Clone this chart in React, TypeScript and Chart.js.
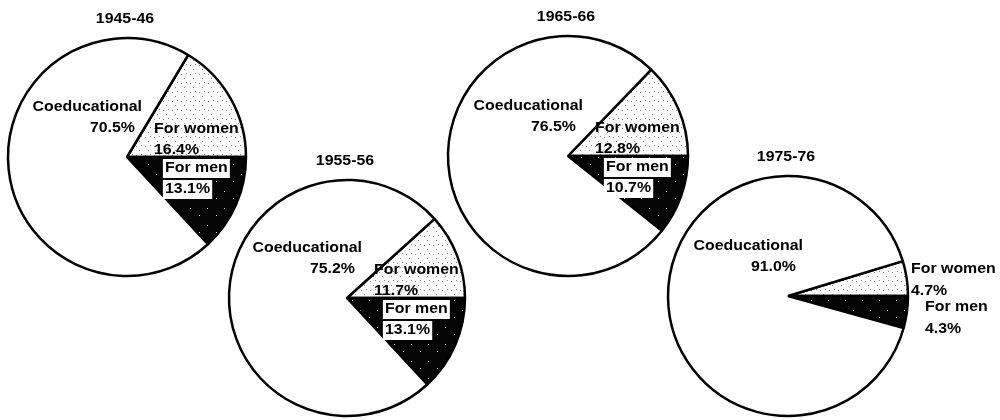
import React, { useEffect, useRef } from "react";
import { Chart, registerables } from "chart.js";

Chart.register(...registerables);

// ---- data ----
const years = ["1945-46", "1955-56", "1965-66", "1975-76"];
const categoryNames = ["For women", "For men", "Coeducational"];
const womenValues = [16.4, 11.7, 12.8, 4.7];
const menValues = [13.1, 13.1, 10.7, 4.3];
const coedValues = [70.5, 75.2, 76.5, 91.0];
const womenLabels = ["16.4%", "11.7%", "12.8%", "4.7%"];
const menLabels = ["13.1%", "13.1%", "10.7%", "4.3%"];
const coedLabels = ["70.5%", "75.2%", "76.5%", "91.0%"];

// ---- layout (positions / sizes only) ----
const W = 1000;
const H = 420;
const pieLayout = [
  { cx: 127, cy: 157, r: 119, outside: false },
  { cx: 347, cy: 298, r: 118, outside: false },
  { cx: 568, cy: 156, r: 120, outside: false },
  { cx: 788, cy: 296, r: 120, outside: true },
];
const FONT = 'bold 15px "Liberation Sans", Arial, Helvetica, sans-serif';
const SX = 1.06;

function makePattern(base: string, dot: string, size: number, dots: number[][]): CanvasPattern | string {
  const c = document.createElement("canvas");
  c.width = size;
  c.height = size;
  const g = c.getContext("2d");
  if (!g) return base;
  g.fillStyle = base;
  g.fillRect(0, 0, size, size);
  g.fillStyle = dot;
  dots.forEach(([x, y]) => g.fillRect(x, y, 1, 1));
  const p = g.createPattern(c, "repeat");
  return p || base;
}

function drawText(ctx: CanvasRenderingContext2D, t: string, tx: number, ty: number, align: CanvasTextAlign, boxed = false) {
  ctx.save();
  ctx.translate(tx, ty);
  ctx.scale(SX, 1);
  ctx.textAlign = align;
  if (boxed) {
    const w = ctx.measureText(t).width;
    const left = align === "left" ? 0 : align === "right" ? -w : -w / 2;
    ctx.fillStyle = "#fff";
    ctx.fillRect(left - 2, -9, w + 4, 19);
  }
  ctx.fillStyle = "#000";
  ctx.fillText(t, 0, 0);
  ctx.restore();
}

function labelPlugin(i: number) {
  return {
    id: "pieLabels" + i,
    afterDraw(chart: any) {
      const arc = chart.getDatasetMeta(0).data[0];
      const { x, y, outerRadius } = arc.getProps(["x", "y", "outerRadius"], true);
      const ctx = chart.ctx as CanvasRenderingContext2D;
      ctx.save();
      ctx.font = FONT;
      ctx.textBaseline = "middle";
      drawText(ctx, years[i], x - 2, y - outerRadius - 19, "center");
      drawText(ctx, categoryNames[2], x + 15, y - 50, "right");
      drawText(ctx, coedLabels[i], x + 8, y - 29, "right");
      if (!pieLayout[i].outside) {
        drawText(ctx, categoryNames[0], x + 27, y - 28, "left");
        drawText(ctx, womenLabels[i], x + 27, y - 7, "left");
        drawText(ctx, categoryNames[1], x + 38, y + 11, "left", true);
        drawText(ctx, menLabels[i], x + 38, y + 32, "left", true);
      } else {
        drawText(ctx, categoryNames[0], x + 123, y - 27, "left");
        drawText(ctx, womenLabels[i], x + 123, y - 5, "left");
        drawText(ctx, categoryNames[1], x + 137, y + 11, "left");
        drawText(ctx, menLabels[i], x + 137, y + 33, "left");
      }
      ctx.restore();
    },
  };
}

export default function App() {
  const r0 = useRef<HTMLCanvasElement>(null);
  const r1 = useRef<HTMLCanvasElement>(null);
  const r2 = useRef<HTMLCanvasElement>(null);
  const r3 = useRef<HTMLCanvasElement>(null);
  const refs = [r0, r1, r2, r3];

  useEffect(() => {
    const stipple = makePattern("#fcfcfc", "#8a8a8a", 9, [
      [1, 2],
      [6, 1],
      [4, 6],
    ]);
    const speckled = makePattern("#050505", "#cfcfcf", 17, [
      [3, 4],
      [12, 11],
    ]);
    const charts = refs.map((ref, i) => {
      const L = pieLayout[i];
      const hx = Math.min(L.cx, W - L.cx);
      const hy = Math.min(L.cy, H - L.cy);
      return new Chart(ref.current as HTMLCanvasElement, {
        type: "pie",
        data: {
          labels: categoryNames,
          datasets: [
            {
              data: [womenValues[i], menValues[i], coedValues[i]],
              backgroundColor: [stipple as any, speckled as any, "#ffffff"],
              borderColor: "#000000",
              borderWidth: 2.5,
              radius: L.r,
            } as any,
          ],
        },
        options: {
          responsive: false,
          animation: false,
          events: [],
          rotation: 90 - womenValues[i] * 3.6,
          layout: {
            padding: {
              left: L.cx - hx,
              right: W - (L.cx + hx),
              top: L.cy - hy,
              bottom: H - (L.cy + hy),
            },
          },
          plugins: {
            legend: { display: false },
            tooltip: { enabled: false },
            title: { display: false },
          },
        } as any,
        plugins: [labelPlugin(i)],
      });
    });
    return () => charts.forEach((c) => c.destroy());
  }, []);

  return (
    <div
      style={{
        position: "absolute",
        left: 0,
        top: 0,
        width: W,
        height: H,
        overflow: "hidden",
        background: "#fff",
      }}
    >
      {refs.map((ref, i) => (
        <canvas
          key={i}
          ref={ref}
          width={W}
          height={H}
          style={{ position: "absolute", left: 0, top: 0, width: W, height: H }}
        />
      ))}
    </div>
  );
}
